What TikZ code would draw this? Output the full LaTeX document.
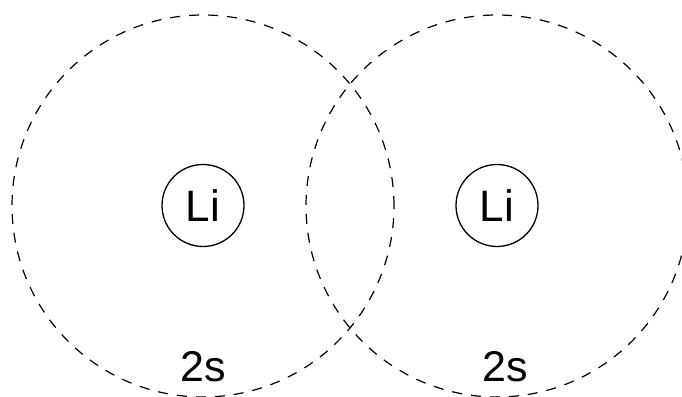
\documentclass[tikz,border=0pt]{standalone}
\usepackage{fontspec}
\setmainfont{Liberation Sans}
\usepackage{tikz}

\begin{document}
\begin{tikzpicture}[x=1pt, y=1pt]
  \useasboundingbox (0,0) rectangle (682,396);
  \tikzset{orbital/.style={draw, circle, line width=1.2pt, dash pattern=on 10pt off 9pt, minimum size=382pt, inner sep=0pt},
           atom/.style={draw, circle, line width=1.3pt, minimum size=82pt, inner sep=0pt, font=\fontsize{44}{48}\selectfont}}
  \node[orbital] (orbA) at (203,190) {};
  \node[orbital] (orbB) at (497,190) {};
  \node[atom] (liA) at (203,190.5) {Li};
  \node[atom] (liB) at (497,190.5) {Li};
  \node[font=\fontsize{43}{48}\selectfont] (sA) at (203,29) {2s};
  \node[font=\fontsize{43}{48}\selectfont] (sB) at (505,29) {2s};
\end{tikzpicture}
\end{document}
